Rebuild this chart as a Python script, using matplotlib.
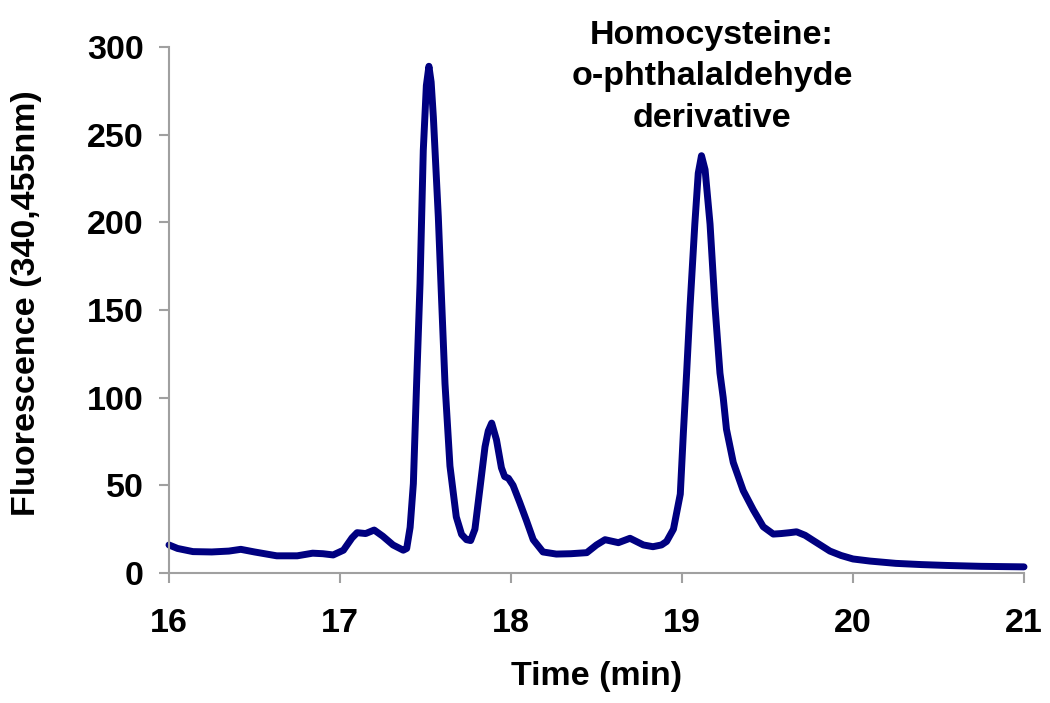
import matplotlib
matplotlib.use("Agg")
import matplotlib.pyplot as plt

time_min = [16.00, 16.05, 16.14, 16.25, 16.35, 16.42, 16.50, 16.63, 16.75, 16.84,
            16.90, 16.96, 17.02, 17.07, 17.10, 17.15, 17.20, 17.25, 17.31, 17.37,
            17.39, 17.41, 17.429, 17.448, 17.468, 17.487, 17.505, 17.52, 17.533, 17.546,
            17.575, 17.594, 17.614, 17.643, 17.68, 17.711, 17.74, 17.764, 17.789, 17.818,
            17.848, 17.867, 17.887, 17.915, 17.944, 17.963, 17.985, 18.012, 18.05, 18.09,
            18.13, 18.187, 18.265, 18.35, 18.443, 18.50, 18.55, 18.628, 18.696, 18.774,
            18.83, 18.88, 18.91, 18.95, 18.99, 19.008, 19.027, 19.047, 19.075, 19.095,
            19.114, 19.135, 19.164, 19.193, 19.222, 19.241, 19.26, 19.30, 19.358, 19.417,
            19.475, 19.534, 19.58, 19.63, 19.67, 19.72, 19.768, 19.865, 19.93, 20.00,
            20.10, 20.25, 20.40, 20.55, 20.75, 21.00]
fluorescence = [16, 14, 12.2, 12, 12.5, 13.5, 12, 9.8, 9.8, 11.3,
                11, 10.3, 13, 20, 23, 22.5, 24.5, 21, 16, 13,
                14, 26, 51, 108, 165, 241, 278, 289, 280, 260,
                203, 156, 108, 61, 32, 22, 19, 18.5, 25, 48,
                72, 81, 85.5, 76, 60, 55, 54, 50, 40.5, 30,
                19, 12, 10.8, 11, 11.6, 16, 19, 17.3, 19.8, 16,
                15, 16, 18, 25, 45, 80, 114, 152, 199, 228,
                238, 230, 199, 152, 114, 100, 82, 63, 47, 36,
                26.4, 22.2, 22.5, 23, 23.5, 21.5, 18.5, 12.5, 10, 8,
                6.8, 5.5, 4.8, 4.3, 3.8, 3.5]

x_ticks = [16, 17, 18, 19, 20, 21]
y_ticks = [0, 50, 100, 150, 200, 250, 300]

plt.rcParams['font.family'] = ['Liberation Sans', 'DejaVu Sans']

fig = plt.figure(figsize=(10.5, 7.03), dpi=100)
ax = fig.add_axes([169/1050, 130/703, (1024-169)/1050, (573-47)/703])

ax.plot(time_min, fluorescence, color='#000080', lw=5, solid_capstyle='round',
        solid_joinstyle='round', clip_on=False)

ax.set_xlim(16, 21)
ax.set_ylim(0, 300)
ax.set_xticks(x_ticks)
ax.set_yticks(y_ticks)
ax.set_xticklabels([str(t) for t in x_ticks], fontsize=24.5, fontweight='bold')
ax.set_yticklabels([str(t) for t in y_ticks], fontsize=24.5, fontweight='bold')

for s in ['top', 'right']:
    ax.spines[s].set_visible(False)
for s in ['left', 'bottom']:
    ax.spines[s].set_color('#a0a0a0')
    ax.spines[s].set_linewidth(1.5)
ax.tick_params(axis='both', direction='out', length=7, width=1.5, color='#a0a0a0')
ax.tick_params(axis='x', pad=18)
ax.tick_params(axis='y', pad=11)

ax.set_xlabel('Time (min)', fontsize=24.5, fontweight='bold')
ax.set_ylabel('Fluorescence (340,455nm)', fontsize=24.5, fontweight='bold')
ax.xaxis.set_label_coords((597-169)/855, (573-677)/526)
ax.yaxis.set_label_coords((27-169)/855, (573-303)/526)
ax.xaxis.label.set_va('center')
ax.yaxis.label.set_va('center')

fig.text(712/1050, 1 - 77/703, 'Homocysteine:\no-phthalaldehyde\nderivative',
         ha='center', va='center', fontsize=24.5, fontweight='bold', linespacing=1.42)

fig.savefig('out.png', dpi=100)
